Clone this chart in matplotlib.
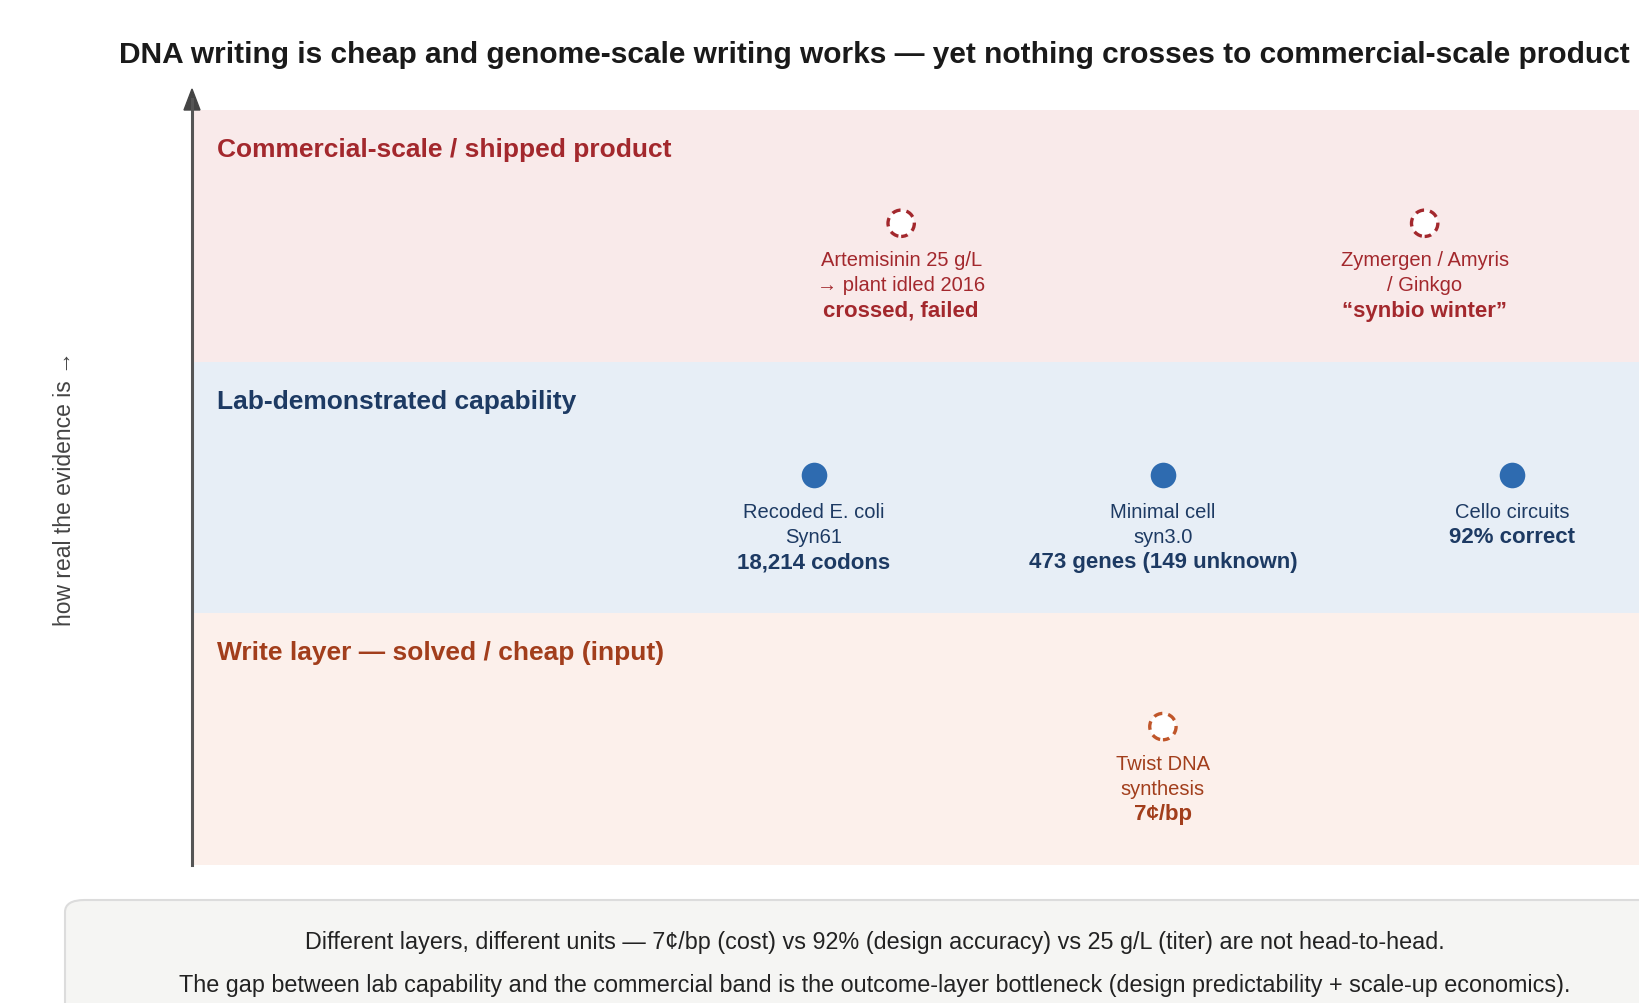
import matplotlib.pyplot as plt
from matplotlib.patches import FancyBboxPatch

plt.rcParams['font.family'] = ['Liberation Sans', 'DejaVu Sans']

# bands, bottom to top
band_names = ['Write layer \u2014 solved / cheap (input)',
              'Lab-demonstrated capability',
              'Commercial-scale / shipped product']
band_fill = ['#fcf0eb', '#e7eef6', '#f9eaea']
band_ink = ['#a23e1c', '#1d3a63', '#a3282d']
marker_ink = ['#c0562a', '#2e6bb0', '#a3282d']

# points: band index, slot position (0 = centre), label lines, bold value, style
pt_band = [2, 2, 1, 1, 1, 0]
pt_slot = [-0.75, 0.75, -1.0, 0.0, 1.0, 0.0]
pt_text = ['Artemisinin 25 g/L\n\u2192 plant idled 2016',
           'Zymergen / Amyris\n/ Ginkgo',
           'Recoded E. coli\nSyn61',
           'Minimal cell\nsyn3.0',
           'Cello circuits',
           'Twist DNA\nsynthesis']
pt_value = ['crossed, failed', '\u201csynbio winter\u201d', '18,214 codons',
            '473 genes (149 unknown)', '92% correct', '7\u00a2/bp']
pt_dashed = [True, True, False, False, False, True]

title = ('DNA writing is cheap and genome-scale writing works \u2014 '
         'yet nothing crosses to commercial-scale product')
ylabel = 'how real the evidence is \u2192'
notes = ['Different layers, different units \u2014 7\u00a2/bp (cost) vs 92% (design accuracy) '
         'vs 25 g/L (titer) are not head-to-head.',
         'The gap between lab capability and the commercial band is the outcome-layer '
         'bottleneck (design predictability + scale-up economics).']

W, H = 1640, 1004
fig = plt.figure(figsize=(W / 100, H / 100), dpi=100)

# plot area in pixels: left 192, top 111, bottom 866, runs off the right edge
ax = fig.add_axes([192 / W, 1 - 866 / H, (W - 192) / W, (866 - 111) / H])
ax.set_xlim(-2.782, 1.367)
ax.set_ylim(0, 3)
ax.axis('off')

for i in range(3):
    ax.axhspan(i, i + 1, color=band_fill[i], lw=0, zorder=0)
    ax.text(-2.71, i + 0.845, band_names[i], color=band_ink[i], fontsize=19,
            fontweight='bold', va='center', ha='left')

for b, x, t, v, d in zip(pt_band, pt_slot, pt_text, pt_value, pt_dashed):
    y = b + 0.55
    ink = band_ink[b]
    if d:
        ax.scatter([x], [y], s=360, facecolors='white', edgecolors=marker_ink[b],
                   linewidths=2.4, linestyles=[(0.6, (2.6, 1.8))], zorder=3)
    else:
        ax.scatter([x], [y], s=340, color=marker_ink[b], lw=0, zorder=3)
    yy = y - 0.145
    for line in t.split('\n'):
        ax.text(x, yy, line, color=ink, fontsize=14.5, ha='center', va='center')
        yy -= 0.1
    ax.text(x, yy, v, color=ink, fontsize=16, fontweight='bold',
            ha='center', va='center')

# vertical arrow axis
fig.add_artist(plt.Line2D([192 / W, 192 / W], [1 - 866 / H, 1 - 100 / H],
                          color='#555555', lw=2.2))
fig.add_artist(plt.Polygon([[184 / W, 1 - 111 / H], [200 / W, 1 - 111 / H],
                            [192 / W, 1 - 90 / H]], closed=True,
                           color='#444444'))

fig.text(65 / W, 1 - 488 / H, ylabel, rotation=90, fontsize=16.5,
         color='#444444', ha='center', va='center')

fig.text(119 / W, 1 - 55 / H, title, fontsize=21.5, fontweight='bold',
         color='#1a1a1a', ha='left', va='center')

box = FancyBboxPatch((65 / W, -0.1), 1.2, (1 - 901 / H) + 0.1,
                     boxstyle='round,pad=0,rounding_size=0.012',
                     transform=fig.transFigure, fc='#f5f5f3', ec='#dcdcdc', lw=1.5)
fig.add_artist(box)
fig.text(875 / W, 1 - 942 / H, notes[0], fontsize=16.8, color='#222222',
         ha='center', va='center')
fig.text(875 / W, 1 - 986 / H, notes[1], fontsize=16.8, color='#222222',
         ha='center', va='center')

fig.savefig('out.png', dpi=100)
